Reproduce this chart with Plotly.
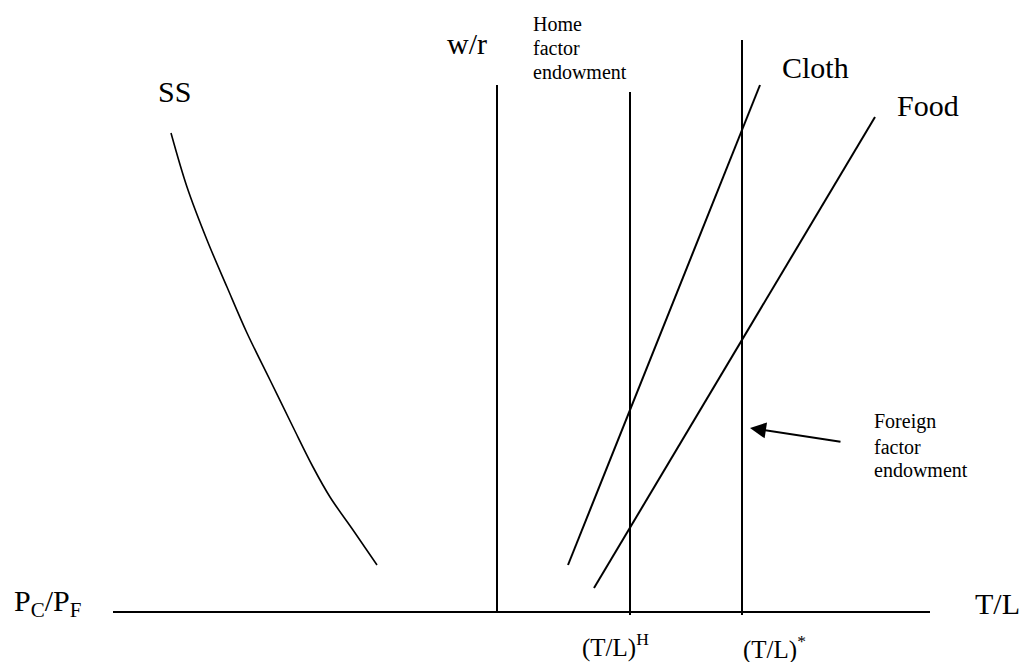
import plotly.graph_objects as go

# Diagram geometry (in picture units: x to the right, y downward)
W, H = 1021, 662
axis_x = [113, 930]
axis_y = 612

wr_x = 497
wr_top = 85
home_x = 630
home_top = 92
foreign_x = 742
foreign_top = 40

cloth_x = [568, 760]
cloth_y = [565, 85]
food_x = [594, 875]
food_y = [588, 117]

ss_x = [171, 187, 207, 227, 247, 270, 293, 313, 330, 353, 377]
ss_y = [133, 187, 240, 287, 333, 380, 427, 467, 497, 530, 565]

arrow_tail = (842, 442)
arrow_tip = (750, 428)

FONT = "Liberation Serif, Times New Roman, serif"
BLACK = "black"

fig = go.Figure()

def seg(x, y, width=2):
    fig.add_trace(go.Scatter(x=x, y=y, mode="lines",
                             line=dict(color=BLACK, width=width),
                             hoverinfo="skip", showlegend=False))

# horizontal axis
seg(axis_x, [axis_y, axis_y])
# vertical lines
seg([wr_x, wr_x], [wr_top, axis_y])
seg([home_x, home_x], [home_top, axis_y + 3])
seg([foreign_x, foreign_x], [foreign_top, axis_y + 3])
# cloth and food lines
seg(cloth_x, cloth_y)
seg(food_x, food_y)
# SS curve
fig.add_trace(go.Scatter(x=ss_x, y=ss_y, mode="lines",
                         line=dict(color=BLACK, width=1.6, shape="spline"),
                         hoverinfo="skip", showlegend=False))

def label(text, x, y, size, xanchor="left"):
    fig.add_annotation(x=x, y=y, text=text, showarrow=False,
                       xanchor=xanchor, yanchor="middle",
                       font=dict(family=FONT, size=size, color=BLACK))

label("w/r", 445, 43, 30)
label("SS", 156, 91, 30)
label("Cloth", 780, 67, 30)
label("Food", 895, 105, 30)
label("P<sub>C</sub>/P<sub>F</sub>", 12, 603, 30)
label("T/L", 973, 603, 30)
label("(T/L)<sup>H</sup>", 580, 645, 25)
label("(T/L)<sup>*</sup>", 741, 647, 25)

for txt, yy in zip(["Home", "factor", "endowment"], [24, 48, 72]):
    label(txt, 531, yy, 20)
for txt, yy in zip(["Foreign", "factor", "endowment"], [421, 447, 470]):
    label(txt, 872, yy, 20)

fig.add_annotation(x=arrow_tip[0], y=arrow_tip[1], ax=arrow_tail[0], ay=arrow_tail[1],
                   xref="x", yref="y", axref="x", ayref="y", text="",
                   showarrow=True, arrowhead=2, arrowsize=1.6, arrowwidth=2,
                   arrowcolor=BLACK)

fig.update_layout(
    width=W, height=H,
    margin=dict(l=0, r=0, t=0, b=0),
    paper_bgcolor="white", plot_bgcolor="white",
    xaxis=dict(range=[0, W], visible=False, fixedrange=True),
    yaxis=dict(range=[H, 0], visible=False, fixedrange=True),
    showlegend=False,
)

fig.write_html("out.html", config={"displayModeBar": False},
               post_script="document.body.style.margin='0';document.body.style.overflow='hidden';")
